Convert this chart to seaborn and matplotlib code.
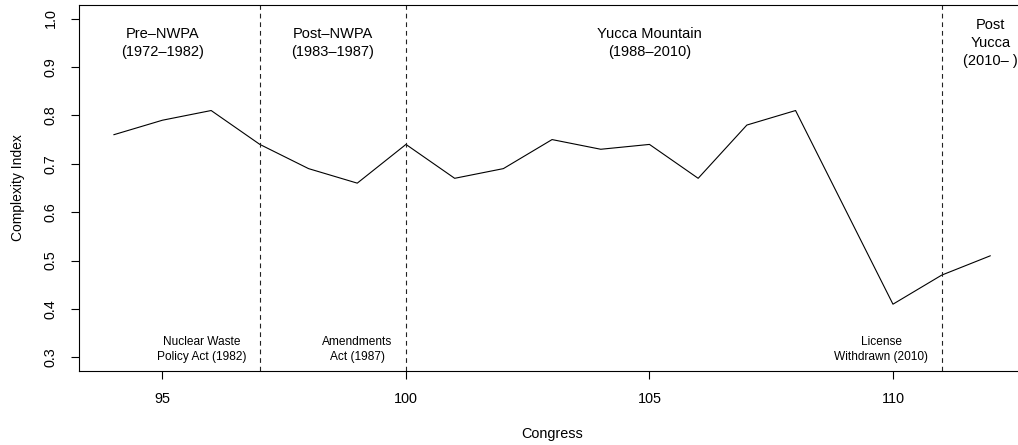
import matplotlib
matplotlib.use("Agg")
import matplotlib.pyplot as plt
import seaborn as sns
import pandas as pd

# Complexity index by Congress
congress = [94, 95, 96, 97, 98, 99, 100, 101, 102, 103, 104, 105, 106, 107, 108, 110, 111, 112]
complexity = [0.76, 0.79, 0.81, 0.74, 0.69, 0.66, 0.74, 0.67, 0.69, 0.75, 0.73, 0.74,
              0.67, 0.78, 0.81, 0.41, 0.47, 0.51]

# Policy periods (label, x position)
period_labels = ["Pre\u2013NWPA\n(1972\u20131982)", "Post\u2013NWPA\n(1983\u20131987)",
                 "Yucca Mountain\n(1988\u20132010)", "Post\nYucca\n(2010\u2013 )"]
period_x = [95, 98.5, 105, 112]

# Event markers (dashed lines) and their captions
event_x = [97, 100, 111]
event_labels = ["Nuclear Waste\nPolicy Act (1982)", "Amendments\nAct (1987)",
                "License\nWithdrawn (2010)"]

x_ticks = [95, 100, 105, 110]
y_ticks = [0.3, 0.4, 0.5, 0.6, 0.7, 0.8, 0.9, 1.0]

df = pd.DataFrame({"Congress": congress, "Complexity Index": complexity})

sns.set_theme(style="white")
plt.rcParams["font.family"] = ["Liberation Sans", "DejaVu Sans"]
plt.rcParams["lines.scale_dashes"] = False

fig = plt.figure(figsize=(10.18, 4.45), dpi=100)
ax = fig.add_axes([0.0773, 0.1663, 0.93, 0.8225])

sns.lineplot(data=df, x="Congress", y="Complexity Index", color="black",
             linewidth=0.8, ax=ax)

for xv in event_x:
    ax.axvline(xv, color="#222222", linewidth=0.8, linestyle=(0, (3.4, 2.8)))

for lab, xv in zip(period_labels, period_x):
    ax.text(xv, 0.95, lab, ha="center", va="center", fontsize=10.5,
            multialignment="center", linespacing=1.38, color="black")

for lab, xv in zip(event_labels, event_x):
    ax.text(xv - 0.275, 0.317, lab, ha="right", va="center", fontsize=8.6,
            multialignment="center", linespacing=1.32, color="black")

ax.set_xlim(93.28, 112.72)
ax.set_ylim(0.272, 1.028)
ax.set_xticks(x_ticks)
ax.set_xticklabels([str(v) for v in x_ticks])
ax.set_yticks(y_ticks)
ax.set_yticklabels([f"{v:.1f}" for v in y_ticks], rotation=90, va="center")

ax.tick_params(axis="both", which="major", direction="out", length=6.1, width=0.8,
               color="black", labelsize=10.4, labelcolor="black", pad=9.0)
ax.tick_params(axis="x", bottom=True)
ax.tick_params(axis="y", left=True)

for side in ["left", "bottom", "top"]:
    ax.spines[side].set_visible(True)
    ax.spines[side].set_color("black")
    ax.spines[side].set_linewidth(0.8)
ax.spines["right"].set_visible(False)

ax.set_xlabel("Congress", fontsize=10.4, color="black", va="center")
ax.set_ylabel("Complexity Index", fontsize=10.0, color="black", va="center")
ax.xaxis.set_label_coords(0.5, -63 / 366)
ax.yaxis.set_label_coords(-61 / 946.6, 0.5)

fig.savefig("out.png", dpi=100)
